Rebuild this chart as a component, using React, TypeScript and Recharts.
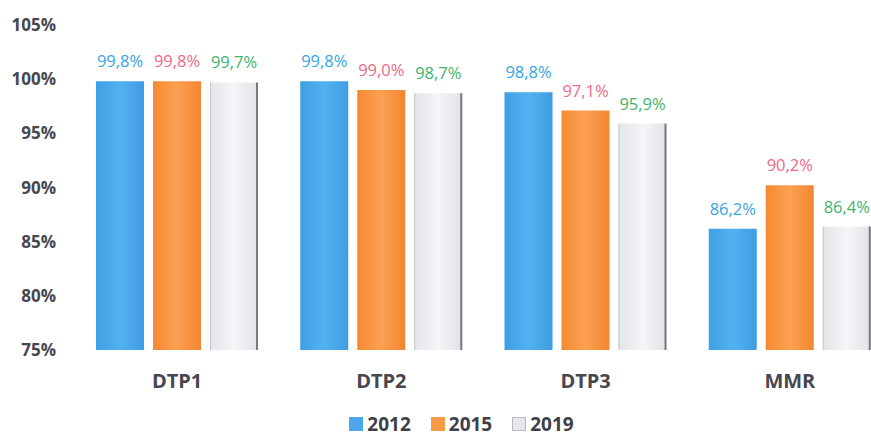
import React from 'react';
import { BarChart, Bar, XAxis, YAxis, Legend, LabelList } from 'recharts';

const categories = ['DTP1', 'DTP2', 'DTP3', 'MMR'];
const values2012 = [99.8, 99.8, 98.8, 86.2];
const values2015 = [99.8, 99.0, 97.1, 90.2];
const values2019 = [99.7, 98.7, 95.9, 86.4];
const yTicks = [75, 80, 85, 90, 95, 100, 105];
const seriesNames = ['2012', '2015', '2019'];

const data = categories.map((c, i) => ({
  name: c,
  y2012: values2012[i],
  y2015: values2015[i],
  y2019: values2019[i],
}));

const fmt = (v: number) => v.toFixed(1).replace('.', ',') + '%';

const GrayBar = (props: any) => {
  const { x, y, width, height } = props;
  if (!height || height <= 0) return null;
  return (
    <g>
      <rect x={x} y={y} width={width} height={height} fill="url(#gGray)" />
      <line x1={x + 0.5} y1={y} x2={x + 0.5} y2={y + height} stroke="#c4c6ca" strokeWidth={1} />
      <line x1={x + width - 1} y1={y} x2={x + width - 1} y2={y + height} stroke="#77797e" strokeWidth={2} />
    </g>
  );
};

const LegendContent = () => {
  const colors = ['#4aa8ea', '#f99a45', '#e6e7ea'];
  return (
    <div style={{ display: 'flex', justifyContent: 'center', alignItems: 'center', fontFamily: 'Open Sans', fontWeight: 700, fontSize: 19, color: '#3f3f48', width: 871, paddingLeft: 36, paddingTop: 20, boxSizing: 'border-box', lineHeight: '16px' }}>
      {seriesNames.map((n, i) => (
        <span key={n} style={{ display: 'inline-flex', alignItems: 'center', marginRight: i < 2 ? 20 : 0 }}>
          <span style={{ display: 'inline-block', width: 14, height: 14, background: colors[i], marginRight: 4, border: i === 2 ? '1px solid #b8babe' : 'none', boxSizing: 'border-box' }} />
          {n}
        </span>
      ))}
    </div>
  );
};

export default function App() {
  return (
    <div style={{ position: 'fixed', left: 0, top: 0, width: 871, height: 436, overflow: 'hidden', background: '#ffffff' }}>
      <BarChart
        width={900}
        height={436}
        data={data}
        margin={{ top: 25, right: 8, left: 8, bottom: 0 }}
        barCategoryGap={21}
        barGap={9}
      >
        <defs>
          <linearGradient id="gBlue" x1="0" y1="0" x2="1" y2="0">
            <stop offset="0" stopColor="#3f9fe4" />
            <stop offset="0.5" stopColor="#52b2f0" />
            <stop offset="1" stopColor="#3f9ce2" />
          </linearGradient>
          <linearGradient id="gOrange" x1="0" y1="0" x2="1" y2="0">
            <stop offset="0" stopColor="#f58a32" />
            <stop offset="0.5" stopColor="#fca052" />
            <stop offset="1" stopColor="#f38630" />
          </linearGradient>
          <linearGradient id="gGray" x1="0" y1="0" x2="1" y2="0">
            <stop offset="0" stopColor="#e4e5e8" />
            <stop offset="0.5" stopColor="#f4f5f7" />
            <stop offset="1" stopColor="#e2e3e6" />
          </linearGradient>
        </defs>
        <XAxis
          dataKey="name"
          axisLine={false}
          tickLine={false}
          tickSize={0}
          tickMargin={24}
          height={46}
          tick={{ fill: '#474752', fontSize: 20, fontWeight: 700, fontFamily: 'Open Sans' }}
        />
        <YAxis
          domain={[75, 105]}
          ticks={yTicks}
          interval={0}
          axisLine={false}
          tickLine={false}
          tickSize={0}
          tickMargin={19}
          width={67}
          tickFormatter={(v: number) => `${v}%`}
          tick={{ fill: '#474752', fontSize: 17, fontWeight: 700, fontFamily: 'Open Sans' }}
        />
        <Legend verticalAlign="bottom" height={40} content={<LegendContent />} />
        <Bar dataKey="y2012" name="2012" fill="url(#gBlue)" isAnimationActive={false}>
          <LabelList dataKey="y2012" position="top" offset={14} formatter={fmt as any} style={{ fill: '#36a4e6', fontSize: 16.5, fontFamily: 'Open Sans' }} />
        </Bar>
        <Bar dataKey="y2015" name="2015" fill="url(#gOrange)" isAnimationActive={false}>
          <LabelList dataKey="y2015" position="top" offset={14} formatter={fmt as any} style={{ fill: '#ec6a86', fontSize: 16.5, fontFamily: 'Open Sans' }} />
        </Bar>
        <Bar dataKey="y2019" name="2019" fill="url(#gGray)" shape={<GrayBar />} isAnimationActive={false}>
          <LabelList dataKey="y2019" position="top" offset={14} formatter={fmt as any} style={{ fill: '#3fb46c', fontSize: 16.5, fontFamily: 'Open Sans' }} />
        </Bar>
      </BarChart>
    </div>
  );
}
